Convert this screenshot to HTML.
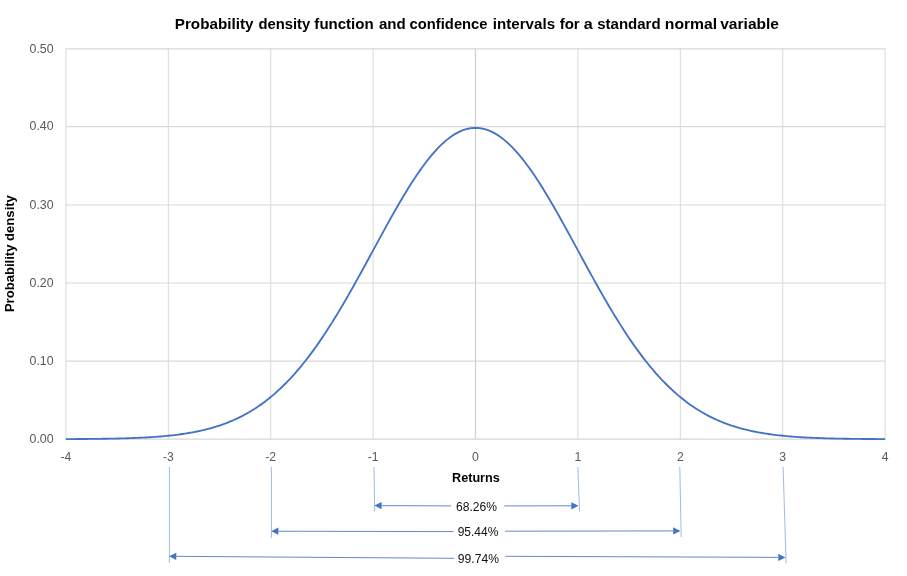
<!DOCTYPE html>
<html lang="en"><head><meta charset="utf-8"><title>Probability density function and confidence intervals for a standard normal variable</title>
<style>
html,body{margin:0;padding:0;background:#fff;}
body{width:907px;height:576px;overflow:hidden;}
svg{display:block;}
text{font-family:"Liberation Sans",sans-serif;}
.t{font-weight:bold;fill:#000;}
.ax{fill:#595959;font-size:12.2px;}
.pc{fill:#111;font-size:12.8px;}
</style></head><body>
<svg width="907" height="576" viewBox="0 0 907 576">
<rect x="0" y="0" width="907" height="576" fill="#ffffff"/>

<g stroke="#d9d9d9" stroke-width="1.05" fill="none">
<line x1="65.90" y1="361.10" x2="885.10" y2="361.10"/>
<line x1="65.90" y1="282.95" x2="885.10" y2="282.95"/>
<line x1="65.90" y1="204.95" x2="885.10" y2="204.95"/>
<line x1="65.90" y1="126.60" x2="885.10" y2="126.60"/>
<line x1="65.90" y1="48.85" x2="885.10" y2="48.85"/>
</g>
<g stroke="#d9d9d9" stroke-width="1.0" fill="none">
<line x1="65.90" y1="48.35" x2="65.90" y2="439.10"/>
<line x1="168.30" y1="48.35" x2="168.30" y2="439.10"/>
<line x1="270.70" y1="48.35" x2="270.70" y2="439.10"/>
<line x1="373.10" y1="48.35" x2="373.10" y2="439.10"/>
<line x1="577.90" y1="48.35" x2="577.90" y2="439.10"/>
<line x1="680.30" y1="48.35" x2="680.30" y2="439.10"/>
<line x1="782.70" y1="48.35" x2="782.70" y2="439.10"/>
<line x1="885.10" y1="48.35" x2="885.10" y2="439.10"/>
</g>
<line x1="475.50" y1="48.85" x2="475.50" y2="439.10" stroke="#d0d0d0" stroke-width="1.25"/>
<line x1="65.40" y1="439.10" x2="885.60" y2="439.10" stroke="#d6d6d6" stroke-width="1.4"/>
<path d="M65.90,439.10 L67.95,439.09 L70.00,439.08 L72.04,439.07 L74.09,439.06 L76.14,439.04 L78.19,439.03 L80.24,439.02 L82.28,439.00 L84.33,438.99 L86.38,438.97 L88.43,438.95 L90.48,438.94 L92.52,438.91 L94.57,438.89 L96.62,438.87 L98.67,438.84 L100.72,438.82 L102.76,438.79 L104.81,438.76 L106.86,438.72 L108.91,438.69 L110.96,438.65 L113.00,438.61 L115.05,438.57 L117.10,438.52 L119.15,438.47 L121.20,438.42 L123.24,438.36 L125.29,438.30 L127.34,438.24 L129.39,438.17 L131.44,438.10 L133.48,438.02 L135.53,437.94 L137.58,437.86 L139.63,437.76 L141.68,437.67 L143.72,437.56 L145.77,437.46 L147.82,437.34 L149.87,437.22 L151.92,437.09 L153.96,436.95 L156.01,436.80 L158.06,436.65 L160.11,436.49 L162.16,436.32 L164.20,436.14 L166.25,435.94 L168.30,435.74 L170.35,435.53 L172.40,435.30 L174.44,435.07 L176.49,434.82 L178.54,434.56 L180.59,434.28 L182.64,433.99 L184.68,433.68 L186.73,433.36 L188.78,433.02 L190.83,432.67 L192.88,432.30 L194.92,431.91 L196.97,431.50 L199.02,431.07 L201.07,430.62 L203.12,430.15 L205.16,429.66 L207.21,429.14 L209.26,428.60 L211.31,428.04 L213.36,427.45 L215.40,426.83 L217.45,426.19 L219.50,425.52 L221.55,424.82 L223.60,424.10 L225.64,423.34 L227.69,422.55 L229.74,421.73 L231.79,420.87 L233.84,419.98 L235.88,419.06 L237.93,418.09 L239.98,417.10 L242.03,416.06 L244.08,414.99 L246.12,413.87 L248.17,412.72 L250.22,411.52 L252.27,410.28 L254.32,409.00 L256.36,407.67 L258.41,406.30 L260.46,404.88 L262.51,403.41 L264.56,401.90 L266.60,400.34 L268.65,398.73 L270.70,397.07 L272.75,395.36 L274.80,393.60 L276.84,391.78 L278.89,389.92 L280.94,388.00 L282.99,386.03 L285.04,384.00 L287.08,381.92 L289.13,379.79 L291.18,377.60 L293.23,375.35 L295.28,373.05 L297.32,370.69 L299.37,368.28 L301.42,365.81 L303.47,363.29 L305.52,360.71 L307.56,358.08 L309.61,355.39 L311.66,352.65 L313.71,349.85 L315.76,347.00 L317.80,344.10 L319.85,341.14 L321.90,338.14 L323.95,335.08 L326.00,331.97 L328.04,328.82 L330.09,325.62 L332.14,322.37 L334.19,319.07 L336.24,315.74 L338.28,312.36 L340.33,308.94 L342.38,305.48 L344.43,301.99 L346.48,298.46 L348.52,294.89 L350.57,291.30 L352.62,287.68 L354.67,284.03 L356.72,280.35 L358.76,276.66 L360.81,272.94 L362.86,269.21 L364.91,265.46 L366.96,261.71 L369.00,257.94 L371.05,254.17 L373.10,250.39 L375.15,246.61 L377.20,242.84 L379.24,239.08 L381.29,235.32 L383.34,231.57 L385.39,227.84 L387.44,224.14 L389.48,220.45 L391.53,216.79 L393.58,213.15 L395.63,209.55 L397.68,205.99 L399.72,202.47 L401.77,198.98 L403.82,195.55 L405.87,192.16 L407.92,188.83 L409.96,185.55 L412.01,182.34 L414.06,179.18 L416.11,176.10 L418.16,173.08 L420.20,170.14 L422.25,167.27 L424.30,164.48 L426.35,161.78 L428.40,159.16 L430.44,156.63 L432.49,154.19 L434.54,151.84 L436.59,149.59 L438.64,147.44 L440.68,145.39 L442.73,143.44 L444.78,141.60 L446.83,139.87 L448.88,138.25 L450.92,136.74 L452.97,135.35 L455.02,134.07 L457.07,132.91 L459.12,131.86 L461.16,130.94 L463.21,130.14 L465.26,129.46 L467.31,128.90 L469.36,128.47 L471.40,128.15 L473.45,127.97 L475.50,127.91 L477.55,127.97 L479.60,128.15 L481.64,128.47 L483.69,128.90 L485.74,129.46 L487.79,130.14 L489.84,130.94 L491.88,131.86 L493.93,132.91 L495.98,134.07 L498.03,135.35 L500.08,136.74 L502.12,138.25 L504.17,139.87 L506.22,141.60 L508.27,143.44 L510.32,145.39 L512.36,147.44 L514.41,149.59 L516.46,151.84 L518.51,154.19 L520.56,156.63 L522.60,159.16 L524.65,161.78 L526.70,164.48 L528.75,167.27 L530.80,170.14 L532.84,173.08 L534.89,176.10 L536.94,179.18 L538.99,182.34 L541.04,185.55 L543.08,188.83 L545.13,192.16 L547.18,195.55 L549.23,198.98 L551.28,202.47 L553.32,205.99 L555.37,209.55 L557.42,213.15 L559.47,216.79 L561.52,220.45 L563.56,224.14 L565.61,227.84 L567.66,231.57 L569.71,235.32 L571.76,239.08 L573.80,242.84 L575.85,246.61 L577.90,250.39 L579.95,254.17 L582.00,257.94 L584.04,261.71 L586.09,265.46 L588.14,269.21 L590.19,272.94 L592.24,276.66 L594.28,280.35 L596.33,284.03 L598.38,287.68 L600.43,291.30 L602.48,294.89 L604.52,298.46 L606.57,301.99 L608.62,305.48 L610.67,308.94 L612.72,312.36 L614.76,315.74 L616.81,319.07 L618.86,322.37 L620.91,325.62 L622.96,328.82 L625.00,331.97 L627.05,335.08 L629.10,338.14 L631.15,341.14 L633.20,344.10 L635.24,347.00 L637.29,349.85 L639.34,352.65 L641.39,355.39 L643.44,358.08 L645.48,360.71 L647.53,363.29 L649.58,365.81 L651.63,368.28 L653.68,370.69 L655.72,373.05 L657.77,375.35 L659.82,377.60 L661.87,379.79 L663.92,381.92 L665.96,384.00 L668.01,386.03 L670.06,388.00 L672.11,389.92 L674.16,391.78 L676.20,393.60 L678.25,395.36 L680.30,397.07 L682.35,398.73 L684.40,400.34 L686.44,401.90 L688.49,403.41 L690.54,404.88 L692.59,406.30 L694.64,407.67 L696.68,409.00 L698.73,410.28 L700.78,411.52 L702.83,412.72 L704.88,413.87 L706.92,414.99 L708.97,416.06 L711.02,417.10 L713.07,418.09 L715.12,419.06 L717.16,419.98 L719.21,420.87 L721.26,421.73 L723.31,422.55 L725.36,423.34 L727.40,424.10 L729.45,424.82 L731.50,425.52 L733.55,426.19 L735.60,426.83 L737.64,427.45 L739.69,428.04 L741.74,428.60 L743.79,429.14 L745.84,429.66 L747.88,430.15 L749.93,430.62 L751.98,431.07 L754.03,431.50 L756.08,431.91 L758.12,432.30 L760.17,432.67 L762.22,433.02 L764.27,433.36 L766.32,433.68 L768.36,433.99 L770.41,434.28 L772.46,434.56 L774.51,434.82 L776.56,435.07 L778.60,435.30 L780.65,435.53 L782.70,435.74 L784.75,435.94 L786.80,436.14 L788.84,436.32 L790.89,436.49 L792.94,436.65 L794.99,436.80 L797.04,436.95 L799.08,437.09 L801.13,437.22 L803.18,437.34 L805.23,437.46 L807.28,437.56 L809.32,437.67 L811.37,437.76 L813.42,437.86 L815.47,437.94 L817.52,438.02 L819.56,438.10 L821.61,438.17 L823.66,438.24 L825.71,438.30 L827.76,438.36 L829.80,438.42 L831.85,438.47 L833.90,438.52 L835.95,438.57 L838.00,438.61 L840.04,438.65 L842.09,438.69 L844.14,438.72 L846.19,438.76 L848.24,438.79 L850.28,438.82 L852.33,438.84 L854.38,438.87 L856.43,438.89 L858.48,438.91 L860.52,438.94 L862.57,438.95 L864.62,438.97 L866.67,438.99 L868.72,439.00 L870.76,439.02 L872.81,439.03 L874.86,439.04 L876.91,439.06 L878.96,439.07 L881.00,439.08 L883.05,439.09 L885.10,439.10" fill="none" stroke="#4472c4" stroke-width="1.85" stroke-linejoin="round" stroke-linecap="butt"/>
<text class="t" y="29.45" font-size="14.4"><tspan x="174.75" textLength="78.69" lengthAdjust="spacingAndGlyphs">Probability</tspan> <tspan x="258.42" textLength="51.84" lengthAdjust="spacingAndGlyphs">density</tspan> <tspan x="314.38" textLength="59.29" lengthAdjust="spacingAndGlyphs">function</tspan> <tspan x="378.92" textLength="26.81" lengthAdjust="spacingAndGlyphs">and</tspan> <tspan x="409.61" textLength="77.91" lengthAdjust="spacingAndGlyphs">confidence</tspan> <tspan x="492.83" textLength="62.23" lengthAdjust="spacingAndGlyphs">intervals</tspan> <tspan x="559.69" textLength="20.03" lengthAdjust="spacingAndGlyphs">for</tspan> <tspan x="583.83" textLength="8.99" lengthAdjust="spacingAndGlyphs">a</tspan> <tspan x="597.26" textLength="63.37" lengthAdjust="spacingAndGlyphs">standard</tspan> <tspan x="664.81" textLength="52.41" lengthAdjust="spacingAndGlyphs">normal</tspan> <tspan x="720.23" textLength="58.79" lengthAdjust="spacingAndGlyphs">variable</tspan></text>
<text class="ax" x="29.5" y="442.90" textLength="24.1" lengthAdjust="spacingAndGlyphs">0.00</text>
<text class="ax" x="29.5" y="364.90" textLength="24.1" lengthAdjust="spacingAndGlyphs">0.10</text>
<text class="ax" x="29.5" y="286.75" textLength="24.1" lengthAdjust="spacingAndGlyphs">0.20</text>
<text class="ax" x="29.5" y="208.75" textLength="24.1" lengthAdjust="spacingAndGlyphs">0.30</text>
<text class="ax" x="29.5" y="130.40" textLength="24.1" lengthAdjust="spacingAndGlyphs">0.40</text>
<text class="ax" x="29.5" y="52.65" textLength="24.1" lengthAdjust="spacingAndGlyphs">0.50</text>
<text class="ax" x="65.90" y="460.8" text-anchor="middle">-4</text>
<text class="ax" x="168.30" y="460.8" text-anchor="middle">-3</text>
<text class="ax" x="270.70" y="460.8" text-anchor="middle">-2</text>
<text class="ax" x="373.10" y="460.8" text-anchor="middle">-1</text>
<text class="ax" x="475.50" y="460.8" text-anchor="middle">0</text>
<text class="ax" x="577.90" y="460.8" text-anchor="middle">1</text>
<text class="ax" x="680.30" y="460.8" text-anchor="middle">2</text>
<text class="ax" x="782.70" y="460.8" text-anchor="middle">3</text>
<text class="ax" x="885.10" y="460.8" text-anchor="middle">4</text>
<text class="t" x="452.0" y="482" font-size="13" textLength="47.8" lengthAdjust="spacingAndGlyphs">Returns</text>
<text class="t" transform="translate(14.3,312.1) rotate(-90)" font-size="13.2" textLength="117" lengthAdjust="spacingAndGlyphs">Probability density</text>
<line x1="169.40" y1="466.9" x2="169.40" y2="562.90" stroke="#4472c4" stroke-width="0.5" fill="none"/>
<line x1="271.40" y1="466.9" x2="271.40" y2="537.80" stroke="#4472c4" stroke-width="0.5" fill="none"/>
<line x1="374.00" y1="466.9" x2="374.70" y2="511.60" stroke="#4472c4" stroke-width="0.5" fill="none"/>
<line x1="577.90" y1="466.9" x2="579.50" y2="511.30" stroke="#4472c4" stroke-width="0.5" fill="none"/>
<line x1="679.80" y1="466.9" x2="681.20" y2="537.10" stroke="#4472c4" stroke-width="0.5" fill="none"/>
<line x1="783.10" y1="466.9" x2="786.10" y2="563.20" stroke="#4472c4" stroke-width="0.5" fill="none"/>
<line x1="451.10" y1="505.90" x2="381.60" y2="505.63" stroke="#4472c4" stroke-width="0.85"/><polygon points="374.40,505.60 381.61,501.98 381.59,509.28" fill="#4472c4"/>
<line x1="504.30" y1="505.90" x2="571.30" y2="505.81" stroke="#4472c4" stroke-width="0.85"/><polygon points="578.50,505.80 571.30,509.46 571.30,502.16" fill="#4472c4"/>
<line x1="453.50" y1="531.60" x2="278.40" y2="531.22" stroke="#4472c4" stroke-width="0.85"/><polygon points="271.20,531.20 278.41,527.57 278.39,534.87" fill="#4472c4"/>
<line x1="505.00" y1="531.20" x2="673.20" y2="530.91" stroke="#4472c4" stroke-width="0.85"/><polygon points="680.40,530.90 673.21,534.56 673.19,527.26" fill="#4472c4"/>
<line x1="454.20" y1="558.30" x2="176.30" y2="556.35" stroke="#4472c4" stroke-width="0.85"/><polygon points="169.10,556.30 176.33,552.70 176.27,560.00" fill="#4472c4"/>
<line x1="505.40" y1="556.30" x2="778.30" y2="557.37" stroke="#4472c4" stroke-width="0.85"/><polygon points="785.50,557.40 778.29,561.02 778.31,553.72" fill="#4472c4"/>
<text class="pc" x="456.0" y="510.6" textLength="41.0" lengthAdjust="spacingAndGlyphs">68.26%</text>
<text class="pc" x="457.7" y="536.2" textLength="40.7" lengthAdjust="spacingAndGlyphs">95.44%</text>
<text class="pc" x="457.8" y="562.7" textLength="41.2" lengthAdjust="spacingAndGlyphs">99.74%</text>
</svg></body></html>
